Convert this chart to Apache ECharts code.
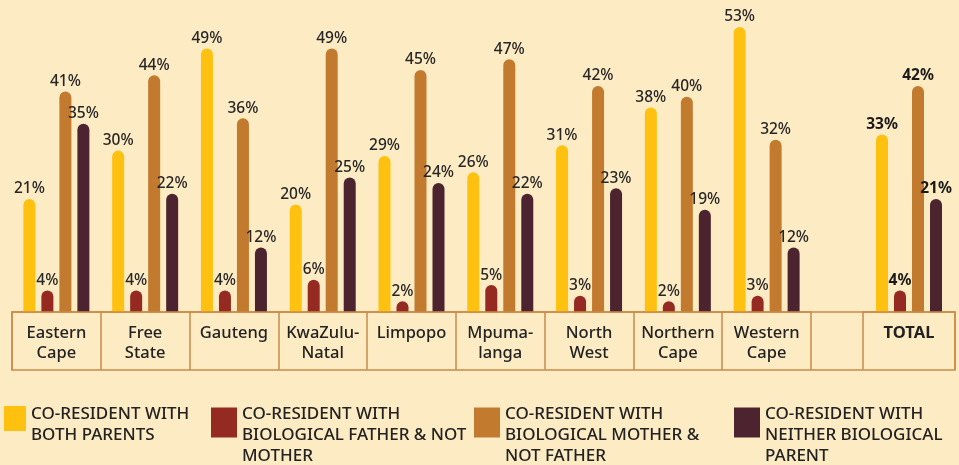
<!DOCTYPE html>
<html>
<head>
<meta charset="utf-8">
<script src="https://cdn.jsdelivr.net/npm/echarts@6/dist/echarts.min.js"></script>
<style>
html,body{margin:0;padding:0;background:#fdebc4;}
#c{width:959px;height:465px;}
</style>
</head>
<body>
<div id="c"></div>
<script>
var categories = ['Eastern\nCape','Free\nState','Gauteng','KwaZulu-\nNatal','Limpopo','Mpuma-\nlanga','North\nWest','Northern\nCape','Western\nCape'];
var totalCategory = ['TOTAL'];
var seriesNames = [
  'CO-RESIDENT WITH\nBOTH PARENTS',
  'CO-RESIDENT WITH\nBIOLOGICAL FATHER & NOT\nMOTHER',
  'CO-RESIDENT WITH\nBIOLOGICAL MOTHER &\nNOT FATHER',
  'CO-RESIDENT WITH\nNEITHER BIOLOGICAL\nPARENT'
];
var bothParents   = [21, 30, 49, 20, 29, 26, 31, 38, 53];
var fatherOnly    = [4, 4, 4, 6, 2, 5, 3, 2, 3];
var motherOnly    = [41, 44, 36, 49, 45, 47, 42, 40, 32];
var neitherParent = [35, 22, 12, 25, 24, 22, 23, 19, 12];
var totals = [33, 4, 42, 21];

var colors = ['#fec10f', '#942a22', '#c27a2e', '#4c2430'];
var values = [bothParents, fatherOnly, motherOnly, neitherParent];
var FONT = 'Noto Sans';
var BORDER = '#c98a4a';

var chart = echarts.init(document.getElementById('c'));

function xAxisCfg(data, gridIndex, bold) {
  return {
    type: 'category', gridIndex: gridIndex, data: data,
    axisLine: {show: true, lineStyle: {color: BORDER, width: 1.5}},
    axisTick: {show: true, length: 58, lineStyle: {color: BORDER, width: 1.5}},
    axisLabel: {margin: 11, color: '#222', fontFamily: FONT, fontSize: 16.5, lineHeight: 20,
      fontWeight: bold ? 'bold' : 500, interval: 0}
  };
}
function yAxisCfg(gridIndex) {
  return {type: 'value', gridIndex: gridIndex, min: 0, max: 58, show: false, splitLine: {show: false}};
}

var series = [];
for (var i = 0; i < 4; i++) {
  series.push({
    name: seriesNames[i], type: 'bar', xAxisIndex: 0, yAxisIndex: 0,
    data: values[i], barWidth: 12, barGap: '50%',
    itemStyle: {color: colors[i], borderRadius: [6, 6, 0, 0]},
    label: {show: true, position: 'top', distance: 2, formatter: '{c}%', color: '#262626',
      fontFamily: FONT, fontSize: 15.5, fontWeight: 500}
  });
}
for (var j = 0; j < 4; j++) {
  series.push({
    name: seriesNames[j], type: 'bar', xAxisIndex: 1, yAxisIndex: 1,
    data: [totals[j]], barWidth: 12, barGap: '50%',
    itemStyle: {color: colors[j], borderRadius: [6, 6, 0, 0]},
    label: {show: true, position: 'top', distance: 2, formatter: '{c}%', color: '#1a1a1a',
      fontFamily: FONT, fontSize: 15.5, fontWeight: 'bold'}
  });
}

var legendSpecs = [
  {left: 4, top: 391, w: 22, h: 25, pad: 13},
  {left: 211, top: 378, w: 26, h: 30, pad: 26},
  {left: 474, top: 378, w: 26, h: 30, pad: 26},
  {left: 734, top: 378, w: 26, h: 30, pad: 26}
];
var legends = legendSpecs.map(function (s, k) {
  return {
    data: [seriesNames[k]], left: s.left, top: s.top, padding: 0,
    itemWidth: s.w, itemHeight: s.h, itemGap: 0, icon: 'rect',
    selectedMode: false,
    formatter: function (name) { return '{p| }\n' + name; },
    textStyle: {fontFamily: FONT, fontSize: 17, fontWeight: 500, lineHeight: 21, color: '#222',
      rich: {p: {fontSize: 2, lineHeight: s.pad}}}
  };
});

chart.setOption({
  backgroundColor: '#fdebc4',
  animation: false,
  legend: legends,
  grid: [
    {left: 12, width: 799, top: 0, bottom: 153},
    {left: 863, width: 92, top: 0, bottom: 153}
  ],
  xAxis: [xAxisCfg(categories, 0, false), xAxisCfg(totalCategory, 1, true)],
  yAxis: [yAxisCfg(0), yAxisCfg(1)],
  series: series,
  graphic: [{
    type: 'rect', z: 10,
    shape: {x: 12, y: 312, width: 943, height: 58},
    style: {fill: 'none', stroke: BORDER, lineWidth: 1.5}
  }]
});
</script>
</body>
</html>
